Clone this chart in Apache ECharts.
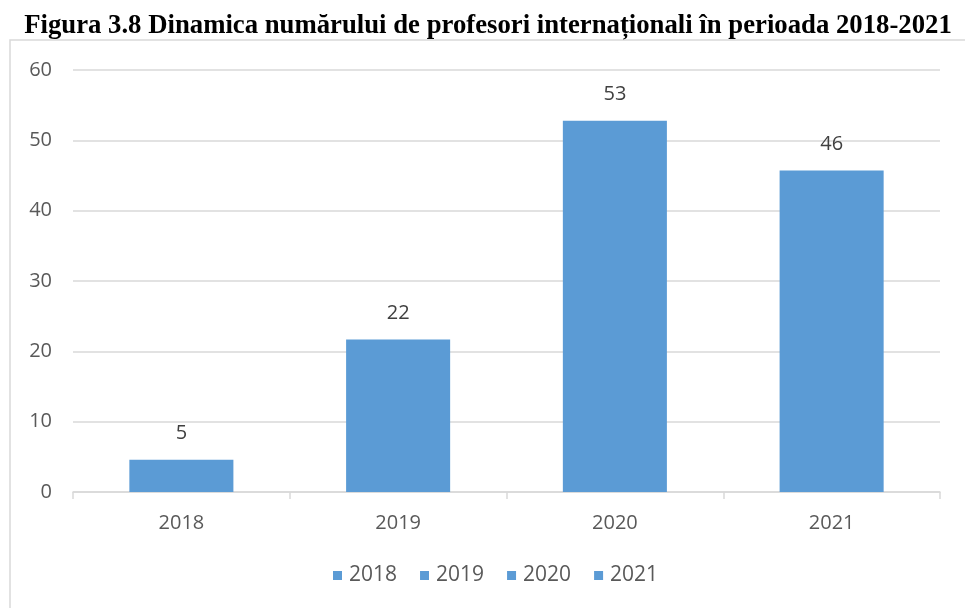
<!DOCTYPE html>
<html>
<head>
<meta charset="utf-8">
<script src="https://cdn.jsdelivr.net/npm/echarts@6/dist/echarts.min.js"></script>
<style>
html,body{margin:0;padding:0;background:#fff;}
#chart{width:965px;height:608px;}
</style>
</head>
<body>
<div id="chart"></div>
<script>
// date
var years = ['2018', '2019', '2020', '2021'];
var profesori = [4.6, 21.7, 52.8, 45.7];
var yTicks = [0, 10, 20, 30, 40, 50, 60];

var culoare = '#5b9bd5';
var gri = '#d9d9d9';

var chart = echarts.init(document.getElementById('chart'), null, {renderer: 'canvas'});

// cate o serie pe an, ca legenda sa arate toti anii
var seriesArr = [];
for (var i = 0; i < years.length; i++) {
	var d = [];
	for (var j = 0; j < years.length; j++) {
		d.push(j === i ? profesori[i] : null);
	}
	seriesArr.push({
		name: years[i],
		type: 'bar',
		data: d,
		barWidth: '48%',
		barGap: '-100%',
		itemStyle: {color: culoare},
		label: {
			show: true,
			position: 'top',
			distance: 16,
			color: '#404040',
			fontSize: 20,
			fontFamily: 'Open Sans',
			formatter: function (p) { return Math.round(p.value); }
		}
	});
}

var option = {
	animation: false,
	graphic: [
		{
			type: 'rect',
			shape: {x: 10, y: 40, width: 1000, height: 700},
			style: {fill: 'none', stroke: gri, lineWidth: 1.5},
			silent: true,
			z: -1
		},
		{
			type: 'text',
			x: 488,
			y: 26,
			scaleX: 0.99,
			style: {
				text: 'Figura 3.8 Dinamica numărului de profesori internaționali în perioada 2018-2021',
				font: 'bold 27px "Liberation Serif"',
				fill: '#000',
				textAlign: 'center',
				textVerticalAlign: 'middle'
			}
		}
	],
	legend: {
		data: years,
		bottom: 17,
		left: 328,
		itemWidth: 9,
		itemHeight: 9,
		itemGap: 23,
		icon: 'rect',
		textStyle: {color: '#595959', fontSize: 21, fontFamily: 'Open Sans', padding: [0, 0, 0, 2]}
	},
	grid: {left: 73, right: 25, top: 70, bottom: 116, containLabel: false},
	xAxis: {
		type: 'category',
		data: years,
		axisLine: {lineStyle: {color: gri, width: 1.5}},
		axisTick: {show: true, length: 7, lineStyle: {color: gri, width: 1.5}},
		axisLabel: {color: '#595959', fontSize: 20, fontFamily: 'Open Sans', margin: 21}
	},
	yAxis: {
		type: 'value',
		min: yTicks[0],
		max: yTicks[yTicks.length - 1],
		interval: 10,
		axisLine: {show: false},
		axisTick: {show: false},
		axisLabel: {color: '#595959', fontSize: 20, fontFamily: 'Open Sans', margin: 21},
		splitLine: {lineStyle: {color: gri, width: 1.5}}
	},
	series: seriesArr
};
chart.setOption(option);
</script>
</body>
</html>
